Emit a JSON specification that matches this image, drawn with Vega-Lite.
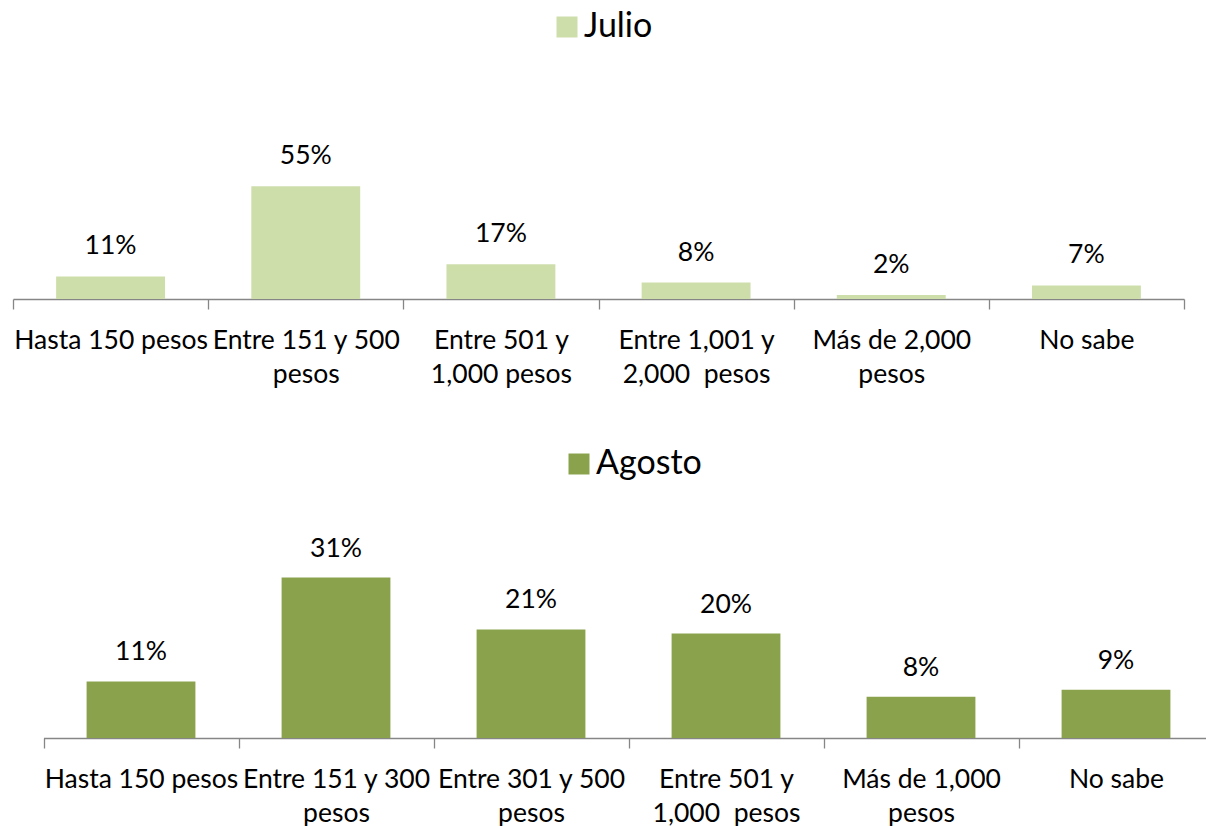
{
  "$schema": "https://vega.github.io/schema/vega-lite/v6.json",
  "background": "white",
  "padding": {"left": 12, "top": 10, "right": 0, "bottom": 0},
  "bounds": "flush",
  "spacing": 259,
  "config": {
    "view": {"stroke": null},
    "font": "Lato",
    "axis": {
      "domainColor": "#868686",
      "tickColor": "#868686",
      "domainWidth": 1.3,
      "tickWidth": 1.3,
      "tickSize": 10,
      "labelFont": "Lato",
      "labelFontSize": 26.5,
      "labelColor": "#000000",
      "labelBaseline": "alphabetic",
      "labelPadding": 39,
      "labelLineHeight": 34,
      "labelLimit": 400,
      "labelOverlap": false,
      "labelAngle": 0,
      "grid": false,
      "title": null
    },
    "legend": {
      "orient": "none",
      "title": null,
      "symbolType": "square",
      "symbolSize": 441,
      "symbolStrokeWidth": 0,
      "symbolOpacity": 1,
      "labelFont": "Lato",
      "labelFontSize": 34,
      "labelColor": "#000000",
      "labelOffset": 0,
      "padding": 0
    }
  },
  "resolve": {
    "scale": {"x": "independent", "y": "independent", "color": "independent"},
    "legend": {"color": "independent"},
    "axis": {"x": "independent"}
  },
  "datasets": {
    "julio": [
      {"mes": "Julio", "rango": "Hasta 150 pesos", "pct": 0.11},
      {"mes": "Julio", "rango": "Entre 151 y 500|pesos", "pct": 0.55},
      {"mes": "Julio", "rango": "Entre 501 y|1,000 pesos", "pct": 0.17},
      {"mes": "Julio", "rango": "Entre 1,001 y|2,000\u00a0 pesos", "pct": 0.08},
      {"mes": "Julio", "rango": "Más de 2,000|pesos", "pct": 0.02},
      {"mes": "Julio", "rango": "No sabe", "pct": 0.066}
    ],
    "agosto": [
      {"mes": "Agosto", "rango": "Hasta 150 pesos", "pct": 0.11},
      {"mes": "Agosto", "rango": "Entre 151 y 300|pesos", "pct": 0.312},
      {"mes": "Agosto", "rango": "Entre 301 y 500|pesos", "pct": 0.211},
      {"mes": "Agosto", "rango": "Entre 501 y|1,000\u00a0 pesos", "pct": 0.203},
      {"mes": "Agosto", "rango": "Más de 1,000|pesos", "pct": 0.08},
      {"mes": "Agosto", "rango": "No sabe", "pct": 0.094}
    ]
  },
  "vconcat": [
    {
      "data": {"name": "julio"},
      "width": 1171,
      "height": 123,
      "encoding": {
        "x": {
          "field": "rango",
          "type": "nominal",
          "sort": null,
          "scale": {"paddingInner": 0, "paddingOuter": 0},
          "axis": {"tickBand": "extent", "labelExpr": "split(datum.label, '|')"}
        },
        "y": {
          "field": "pct",
          "type": "quantitative",
          "scale": {"domain": [0, 0.6]},
          "axis": null
        }
      },
      "layer": [
        {
          "mark": {"type": "bar", "width": {"band": 0.558}},
          "encoding": {
            "color": {
              "field": "mes",
              "type": "nominal",
              "scale": {"range": ["#cddeaa"]},
              "legend": {"legendX": 537, "legendY": -166}
            }
          }
        },
        {
          "mark": {"type": "text", "baseline": "alphabetic", "dy": -22, "fontSize": 26.5, "font": "Lato", "color": "#000000"},
          "encoding": {"text": {"field": "pct", "type": "quantitative", "format": ".0%"}}
        }
      ]
    },
    {
      "data": {"name": "agosto"},
      "width": 1171,
      "height": 180,
      "encoding": {
        "x": {
          "field": "rango",
          "type": "nominal",
          "sort": null,
          "scale": {"paddingInner": 0, "paddingOuter": 0, "range": [30.5, 1200.5]},
          "axis": {"tickBand": "extent", "labelExpr": "split(datum.label, '|')"}
        },
        "y": {
          "field": "pct",
          "type": "quantitative",
          "scale": {"domain": [0, 0.35]},
          "axis": null
        }
      },
      "layer": [
        {
          "mark": {"type": "bar", "width": {"band": 0.558}},
          "encoding": {
            "color": {
              "field": "mes",
              "type": "nominal",
              "scale": {"range": ["#8aa24c"]},
              "legend": {"legendX": 549, "legendY": -111}
            }
          }
        },
        {
          "mark": {"type": "text", "baseline": "alphabetic", "dy": -21, "fontSize": 26.5, "font": "Lato", "color": "#000000"},
          "encoding": {"text": {"field": "pct", "type": "quantitative", "format": ".0%"}}
        }
      ]
    }
  ]
}
